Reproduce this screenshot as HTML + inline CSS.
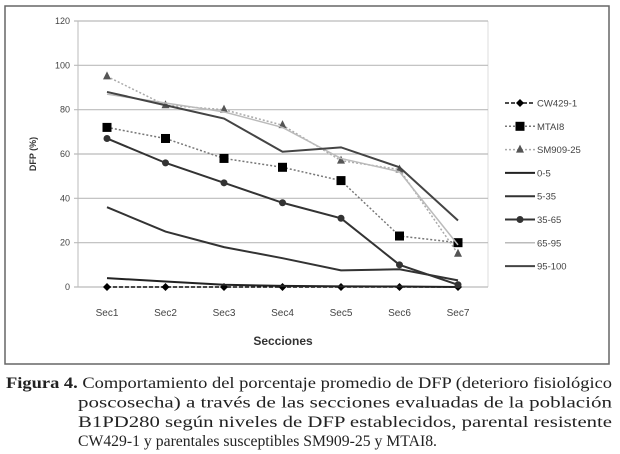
<!DOCTYPE html>
<html><head><meta charset="utf-8"><style>
body{margin:0;width:620px;height:454px;background:#fff;overflow:hidden;font-family:"Liberation Sans",sans-serif}
</style></head><body>
<svg width="620" height="370" style="position:absolute;left:0;top:0">
<rect x="5" y="6" width="604" height="358" fill="#fff" stroke="#666" stroke-width="1.5"/>
<g id="grid"></g><g id="series"></g><g id="legend"></g>
<text transform="translate(36,154) rotate(-90)" text-anchor="middle" font-size="9" font-weight="bold" fill="#333">DFP (%)</text>
<text x="283" y="345" text-anchor="middle" font-size="12" font-weight="bold" fill="#333">Secciones</text>
</svg>
<svg width="620" height="84" style="position:absolute;left:0;top:370px" font-family="'Liberation Serif',serif" font-size="15.5" fill="#222">
<text x="6" y="18" textLength="606" lengthAdjust="spacingAndGlyphs"><tspan font-weight="bold">Figura 4.</tspan> Comportamiento del porcentaje promedio de DFP (deterioro fisiológico</text>
<text x="78" y="37.5" textLength="534" lengthAdjust="spacingAndGlyphs">poscosecha) a través de las secciones evaluadas de la población</text>
<text x="78" y="57" textLength="534" lengthAdjust="spacingAndGlyphs">B1PD280 según niveles de DFP establecidos, parental resistente</text>
<text x="78" y="76" textLength="359" lengthAdjust="spacingAndGlyphs">CW429-1 y parentales susceptibles SM909-25 y MTAI8.</text>
</svg>
<script>
const categories=["Sec1","Sec2","Sec3","Sec4","Sec5","Sec6","Sec7"];
const yTicks=[0,20,40,60,80,100,120];
const seriesNames=["CW429-1","MTAI8","SM909-25","0-5","5-35","35-65","65-95","95-100"];
const cw429=[0,0,0,0,0,0,0];
const mtai8=[72,67,58,54,48,23,20];
const sm909=[95,82,80,73,57,53,15];
const s0_5=[4,2.5,1,0.5,0.3,0.2,0];
const s5_35=[36,25,18,13,7.5,8,3];
const s35_65=[67,56,47,38,31,10,1];
const s65_95=[87,83,79,72,58,52,19];
const s95_100=[88,82,76,61,63,54,30];
const NS="http://www.w3.org/2000/svg";
function mk(t,a,p){const e=document.createElementNS(NS,t);for(const k in a)e.setAttribute(k,a[k]);p.appendChild(e);return e;}
const x0=78,x1=488,y0=287,y1=21;
function X(i){return 107+i*(458-107)/(categories.length-1);}
function Y(v){return y0-(v/120)*(y0-y1);}
const g=document.getElementById('grid');
mk('line',{x1:x0,y1:y1,x2:x0,y2:y0,stroke:'#bbb'},g);
mk('line',{x1:x1,y1:y1,x2:x1,y2:y0,stroke:'#ddd'},g);
yTicks.forEach(v=>{const l=mk('line',{x1:x0-4,y1:Y(v),x2:x1,y2:Y(v),stroke:'#bbb','stroke-width':1.2},g);

const t=mk('text',{x:x0-8,y:Y(v)+3,'text-anchor':'end','font-size':9,fill:'#444'},g);t.textContent=v;
});
categories.forEach((c,i)=>{const t=mk('text',{x:X(i),y:316,'text-anchor':'middle','font-size':10,fill:'#444'},g);t.textContent=c;
});
const styles=[
{d:cw429,c:'#111',w:1.5,dash:'4,2',m:'diamond'},
{d:mtai8,c:'#777',w:1.5,dash:'2,2',m:'square'},
{d:sm909,c:'#aaa',w:1.5,dash:'2,2',m:'triangle'},
{d:s0_5,c:'#222',w:2,dash:'',m:''},
{d:s5_35,c:'#333',w:2,dash:'',m:''},
{d:s35_65,c:'#333',w:2,dash:'',m:'circle'},
{d:s65_95,c:'#bbb',w:1.5,dash:'',m:''},
{d:s95_100,c:'#444',w:2,dash:'',m:''}];
const sg=document.getElementById('series'),lg=document.getElementById('legend');
function marker(m,x,y,p){
if(m==='square')return mk('rect',{x:x-4.5,y:y-4.5,width:9,height:9,fill:'#000'},p);
if(m==='triangle')return mk('polygon',{points:`${x},${y-5} ${x+4},${y+3} ${x-4},${y+3}`,fill:'#555'},p);
if(m==='circle')return mk('circle',{cx:x,cy:y,r:3.5,fill:'#333'},p);
if(m==='diamond')return mk('polygon',{points:`${x},${y-4} ${x+4},${y} ${x},${y+4} ${x-4},${y}`,fill:'#000'},p);
}
styles.forEach((s,k)=>{
const pts=s.d.map((v,i)=>X(i)+','+Y(v)).join(' ');
const pl=mk('polyline',{points:pts,fill:'none',stroke:s.c,'stroke-width':s.w,'stroke-dasharray':s.dash},sg);


if(s.m)s.d.forEach((v,i)=>{const e=marker(s.m,X(i),Y(v),sg);

});
const ly=103+k*23.3;
const ll=mk('line',{x1:505,y1:ly,x2:535,y2:ly,stroke:s.c,'stroke-width':s.w,'stroke-dasharray':s.dash},lg);


if(s.m)marker(s.m,520,ly,lg);
const t=mk('text',{x:537,y:ly+3.5,'font-size':9.5,fill:'#444'},lg);t.textContent=seriesNames[k];


});
</script>
</body></html>
